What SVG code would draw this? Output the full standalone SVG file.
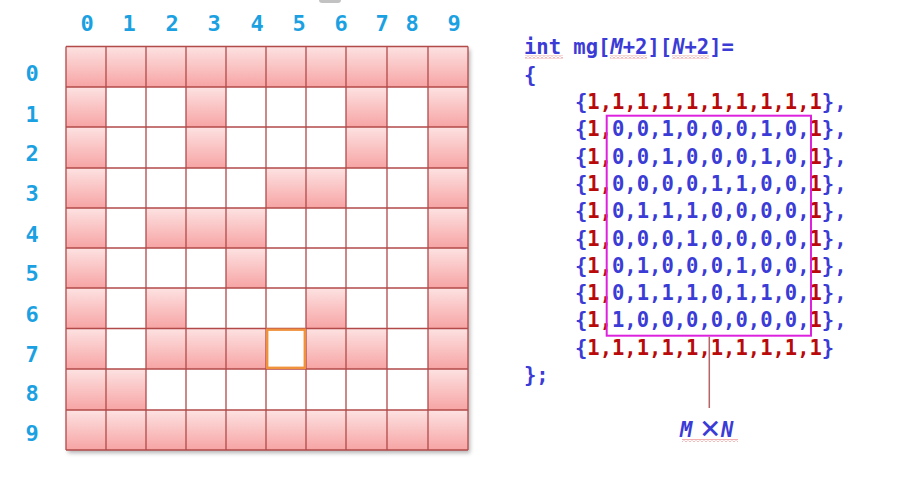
<svg xmlns="http://www.w3.org/2000/svg" width="909" height="485" viewBox="0 0 909 485">
<defs>
<linearGradient id="pk" x1="0" y1="0" x2="0" y2="1">
<stop offset="0" stop-color="#fde2e2"/>
<stop offset="1" stop-color="#f7a4a4"/>
</linearGradient>
<filter id="sh" x="-5%" y="-5%" width="110%" height="110%">
<feDropShadow dx="2" dy="3" stdDeviation="2" flood-color="#000" flood-opacity="0.3"/>
</filter>
<pattern id="wv" x="0" y="0" width="4" height="3" patternUnits="userSpaceOnUse">
<path d="M0,2.5 L2,0.5 L4,2.5" fill="none" stroke="#e03a3a" stroke-width="0.8"/>
</pattern>
<style>
.p{fill:url(#pk)}
.gl{fill:none;stroke:#b24a4a;stroke-width:1.3}
.lb{font-family:"DejaVu Sans Mono",monospace;font-weight:bold;font-size:22px;fill:#1ba1e2;text-anchor:middle}
.cd{font-family:"DejaVu Sans Mono",monospace;font-weight:bold;font-size:20.5px;fill:#3b3bd6}
.r{fill:#b80a0a}
.it{font-style:italic}
.wv{fill:url(#wv)}
</style>
</defs>
<rect x="319" y="-6" width="22" height="9" rx="3" fill="#a8a8a8" opacity="0.7"/>
<g id="labels">
<text class="lb" x="87" y="31">0</text>
<text class="lb" x="129" y="31">1</text>
<text class="lb" x="172" y="31">2</text>
<text class="lb" x="214" y="31">3</text>
<text class="lb" x="257" y="31">4</text>
<text class="lb" x="299" y="31">5</text>
<text class="lb" x="341" y="31">6</text>
<text class="lb" x="382" y="31">7</text>
<text class="lb" x="412" y="31">8</text>
<text class="lb" x="454" y="31">9</text>
<text class="lb" x="32" y="81">0</text>
<text class="lb" x="32" y="122">1</text>
<text class="lb" x="32" y="161">2</text>
<text class="lb" x="32" y="201">3</text>
<text class="lb" x="32" y="242">4</text>
<text class="lb" x="32" y="281">5</text>
<text class="lb" x="32" y="322">6</text>
<text class="lb" x="32" y="362">7</text>
<text class="lb" x="32" y="401">8</text>
<text class="lb" x="32" y="441">9</text>
</g>
<g id="grid">
<rect x="66" y="46.5" width="402" height="403.5" fill="#fff" filter="url(#sh)"/>
<!-- row 0 -->
<rect class="p" x="66" y="46.5" width="40" height="40.5"/><rect class="p" x="106" y="46.5" width="40" height="40.5"/><rect class="p" x="146" y="46.5" width="40" height="40.5"/><rect class="p" x="186" y="46.5" width="40" height="40.5"/><rect class="p" x="226" y="46.5" width="40" height="40.5"/><rect class="p" x="266" y="46.5" width="40" height="40.5"/><rect class="p" x="306" y="46.5" width="40" height="40.5"/><rect class="p" x="346" y="46.5" width="41" height="40.5"/><rect class="p" x="387" y="46.5" width="41" height="40.5"/><rect class="p" x="428" y="46.5" width="40" height="40.5"/>
<!-- row 1 -->
<rect class="p" x="66" y="87" width="40" height="40"/><rect class="p" x="186" y="87" width="40" height="40"/><rect class="p" x="346" y="87" width="41" height="40"/><rect class="p" x="428" y="87" width="40" height="40"/>
<!-- row 2 -->
<rect class="p" x="66" y="127" width="40" height="41"/><rect class="p" x="186" y="127" width="40" height="41"/><rect class="p" x="346" y="127" width="41" height="41"/><rect class="p" x="428" y="127" width="40" height="41"/>
<!-- row 3 -->
<rect class="p" x="66" y="168" width="40" height="40"/><rect class="p" x="266" y="168" width="40" height="40"/><rect class="p" x="306" y="168" width="40" height="40"/><rect class="p" x="428" y="168" width="40" height="40"/>
<!-- row 4 -->
<rect class="p" x="66" y="208" width="40" height="40"/><rect class="p" x="146" y="208" width="40" height="40"/><rect class="p" x="186" y="208" width="40" height="40"/><rect class="p" x="226" y="208" width="40" height="40"/><rect class="p" x="428" y="208" width="40" height="40"/>
<!-- row 5 -->
<rect class="p" x="66" y="248" width="40" height="40"/><rect class="p" x="226" y="248" width="40" height="40"/><rect class="p" x="428" y="248" width="40" height="40"/>
<!-- row 6 -->
<rect class="p" x="66" y="288" width="40" height="40.5"/><rect class="p" x="146" y="288" width="40" height="40.5"/><rect class="p" x="306" y="288" width="40" height="40.5"/><rect class="p" x="428" y="288" width="40" height="40.5"/>
<!-- row 7 -->
<rect class="p" x="66" y="328.5" width="40" height="40.5"/><rect class="p" x="146" y="328.5" width="40" height="40.5"/><rect class="p" x="186" y="328.5" width="40" height="40.5"/><rect class="p" x="226" y="328.5" width="40" height="40.5"/><rect class="p" x="306" y="328.5" width="40" height="40.5"/><rect class="p" x="346" y="328.5" width="41" height="40.5"/><rect class="p" x="428" y="328.5" width="40" height="40.5"/>
<!-- row 8 -->
<rect class="p" x="66" y="369" width="40" height="41"/><rect class="p" x="106" y="369" width="40" height="41"/><rect class="p" x="428" y="369" width="40" height="41"/>
<!-- row 9 -->
<rect class="p" x="66" y="410" width="40" height="40"/><rect class="p" x="106" y="410" width="40" height="40"/><rect class="p" x="146" y="410" width="40" height="40"/><rect class="p" x="186" y="410" width="40" height="40"/><rect class="p" x="226" y="410" width="40" height="40"/><rect class="p" x="266" y="410" width="40" height="40"/><rect class="p" x="306" y="410" width="40" height="40"/><rect class="p" x="346" y="410" width="41" height="40"/><rect class="p" x="387" y="410" width="41" height="40"/><rect class="p" x="428" y="410" width="40" height="40"/>
<path class="gl" d="M66,46.5V450M106,46.5V450M146,46.5V450M186,46.5V450M226,46.5V450M266,46.5V450M306,46.5V450M346,46.5V450M387,46.5V450M428,46.5V450M468,46.5V450M66,46.5H468M66,87H468M66,127H468M66,168H468M66,208H468M66,248H468M66,288H468M66,328.5H468M66,369H468M66,410H468M66,450H468"/>
<rect id="current" x="267.2" y="329.7" width="37.6" height="38.1" fill="none" stroke="#f0913c" stroke-width="2.4"/>
</g>
<g id="code" class="cd">
<text x="524" y="54"><tspan>int</tspan> mg[<tspan class="it">M</tspan>+2][<tspan class="it">N</tspan>+2]=</text>
<text x="524" y="81.5">{</text>
<text x="575" y="109">{<tspan class="r">1,1,1,1,1,1,1,1,1,1</tspan>},</text>
<text x="575" y="136.3">{<tspan class="r">1,</tspan>0,0,1,0,0,0,1,0,<tspan class="r">1</tspan>},</text>
<text x="575" y="163.6">{<tspan class="r">1,</tspan>0,0,1,0,0,0,1,0,<tspan class="r">1</tspan>},</text>
<text x="575" y="190.9">{<tspan class="r">1,</tspan>0,0,0,0,1,1,0,0,<tspan class="r">1</tspan>},</text>
<text x="575" y="218.2">{<tspan class="r">1,</tspan>0,1,1,1,0,0,0,0,<tspan class="r">1</tspan>},</text>
<text x="575" y="245.5">{<tspan class="r">1,</tspan>0,0,0,1,0,0,0,0,<tspan class="r">1</tspan>},</text>
<text x="575" y="272.8">{<tspan class="r">1,</tspan>0,1,0,0,0,1,0,0,<tspan class="r">1</tspan>},</text>
<text x="575" y="300.1">{<tspan class="r">1,</tspan>0,1,1,1,0,1,1,0,<tspan class="r">1</tspan>},</text>
<text x="575" y="327.4">{<tspan class="r">1,</tspan>1,0,0,0,0,0,0,0,<tspan class="r">1</tspan>},</text>
<text x="575" y="354.7">{<tspan class="r">1,1,1,1,1,1,1,1,1,1</tspan>}</text>
<text x="524" y="382">};</text>
<rect class="wv" x="525" y="55.5" width="38" height="3"/>
<rect class="wv" x="610" y="55.5" width="37" height="3"/>
<rect class="wv" x="672" y="55.5" width="37" height="3"/>
</g>
<g id="box-MxN">
<rect x="606.7" y="115.7" width="204.3" height="220" fill="none" stroke="#dd22dd" stroke-width="2"/>
</g>
<g id="connectors">
<line x1="709.3" y1="336.7" x2="709.3" y2="408" stroke="#b86464" stroke-width="1.5"/>
</g>
<g id="label-MxN">
<text class="cd it" y="437" font-size="23px"><tspan x="680">M</tspan><tspan x="700" font-size="34px" font-style="normal" font-weight="normal" dy="2">×</tspan><tspan x="721" dy="-2">N</tspan></text>
<rect class="wv" x="682" y="439" width="56" height="3"/>
</g>
</svg>
